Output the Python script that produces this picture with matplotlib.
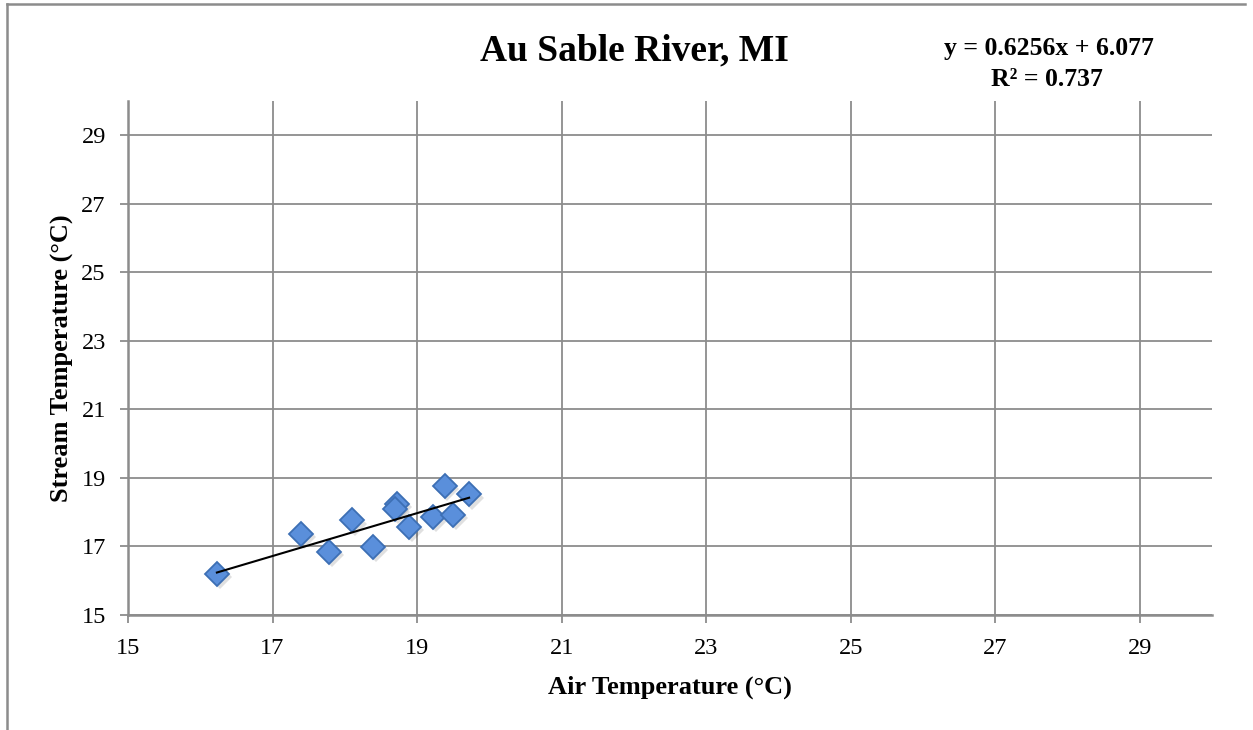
import matplotlib
matplotlib.use("Agg")
import matplotlib.pyplot as plt
from matplotlib.lines import Line2D
import numpy as np

# data
air_temp = [16.23, 17.39, 17.78, 18.10, 18.39, 18.72, 18.70, 18.89, 19.22, 19.38, 19.50, 19.72]
stream_temp = [16.19, 17.35, 16.83, 17.75, 16.99, 18.23, 18.08, 17.57, 17.86, 18.76, 17.91, 18.51]
slope = 0.6256
intercept = 6.077
r_squared = 0.737
ticks = [15, 17, 19, 21, 23, 25, 27, 29]

plt.rcParams["font.family"] = ["Liberation Serif", "DejaVu Serif"]

W, H = 1253, 730
fig = plt.figure(figsize=(W / 100, H / 100), dpi=100)
ax = fig.add_axes([128 / W, 1 - 614.7 / H, (1212 - 128) / W, (614.7 - 100.7) / H])

grid_color = "#8c8c8c"
ax.set_xlim(15, 30)
ax.set_ylim(15, 30)
ax.set_xticks(ticks)
ax.set_yticks(ticks)
ax.grid(True, color=grid_color, linewidth=1.3)
ax.set_axisbelow(True)
for side in ["top", "right"]:
    ax.spines[side].set_visible(False)
for side in ["left", "bottom"]:
    ax.spines[side].set_color(grid_color)
    ax.spines[side].set_linewidth(1.8)
ax.tick_params(direction="out", length=6, width=1.3, color=grid_color,
               labelsize=17.5)
ax.tick_params(axis="x", pad=11)
ax.tick_params(axis="y", pad=10)

# shadow then markers
ax.plot(np.array(air_temp) + 0.04, np.array(stream_temp) - 0.09, "D", ms=12,
        color="#000000", alpha=0.12, markeredgewidth=0, zorder=2)
ax.plot(air_temp, stream_temp, "D", ms=12, markerfacecolor="#5a8fdb",
        markeredgecolor="#3d6fb4", markeredgewidth=1.3, zorder=3)

# linear trendline
xs = np.array([min(air_temp), max(air_temp)])
ax.plot(xs, slope * xs + intercept, color="black", linewidth=1.5, zorder=4)

ax.set_xlabel("Air Temperature (°C)", fontsize=19, fontweight="bold", labelpad=12)
ax.set_ylabel("Stream Temperature (°C)", fontsize=19, fontweight="bold", labelpad=5)

fig.text(634 / W, 1 - 60 / H, "Au Sable River, MI", fontsize=27, fontweight="bold",
         ha="center", va="baseline")
fig.text(1049 / W, 1 - 55 / H, f"y = {slope}x + {intercept}",
         fontsize=18.5, fontweight="bold", ha="center", va="baseline")
fig.text(1047 / W, 1 - 86 / H, f"R² = {r_squared}",
         fontsize=18.5, fontweight="bold", ha="center", va="baseline")

# outer chart frame (left and top edges)
fig.add_artist(Line2D([7 / W, 7 / W], [0, 1 - 4 / H], color=grid_color, linewidth=1.8))
fig.add_artist(Line2D([7 / W, 1245 / W], [1 - 4 / H, 1 - 4 / H], color=grid_color, linewidth=1.8))

fig.savefig("out.png", dpi=100)
plt.close(fig)
